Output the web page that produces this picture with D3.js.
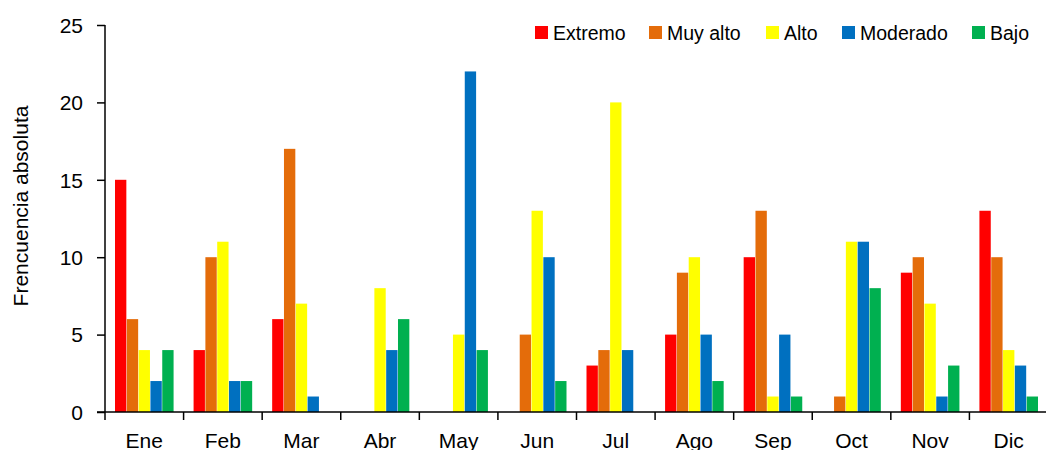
<!DOCTYPE html>
<html><head><meta charset="utf-8">
<script src="https://cdn.jsdelivr.net/npm/d3@7"></script>
<style>body{margin:0;background:#fff}svg{display:block}text{font-family:"Liberation Sans",Arial,sans-serif;fill:#000}</style>
</head><body>
<svg id="c" width="1046" height="450"></svg>
<script>
const months = ["Ene","Feb","Mar","Abr","May","Jun","Jul","Ago","Sep","Oct","Nov","Dic"];
const seriesNames = ["Extremo","Muy alto","Alto","Moderado","Bajo"];
const colors = ["#FF0000","#E46C0A","#FFFF00","#0070C0","#00B050"];
const extremo  = [15,4,6,0,0,0,3,5,10,0,9,13];
const muyAlto  = [6,10,17,0,0,5,4,9,13,1,10,10];
const alto     = [4,11,7,8,5,13,20,10,1,11,7,4];
const moderado = [2,2,1,4,22,10,4,5,5,11,1,3];
const bajo     = [4,2,0,6,4,2,0,2,1,8,3,1];
const yTicks = [0,5,10,15,20,25];
const series = [extremo, muyAlto, alto, moderado, bajo];

const svg = d3.select("#c");
const x0 = 105, x1 = 1048, yTop = 25, yBot = 412;
const x = d3.scaleBand().domain(months).range([x0, x1]).paddingInner(0).paddingOuter(0);
const xs = d3.scaleBand().domain(seriesNames).range([10, x.bandwidth()-10]).paddingInner(0.04);
const y = d3.scaleLinear().domain([0,25]).range([yBot, yTop]);

const g = svg.append("g");
months.forEach((m, i) => {
  series.forEach((s, j) => {
    const v = s[i];
    if (v > 0) {
      g.append("rect")
        .attr("x", x(m) + xs(seriesNames[j]))
        .attr("y", y(v))
        .attr("width", xs.bandwidth())
        .attr("height", y(0) - y(v))
        .attr("fill", colors[j]);
    }
  });
});

// Y axis
const ya = svg.append("g").attr("transform", `translate(${x0},0)`)
  .call(d3.axisLeft(y).tickValues(yTicks).tickSize(8).tickPadding(14).tickFormat(d3.format("d")));
ya.select(".domain").attr("stroke","#000").attr("stroke-width",1.5).attr("d", `M0,${yTop}V${yBot}`);
ya.selectAll(".tick line").attr("stroke","#000").attr("stroke-width",1.5);
ya.selectAll(".tick text").style("font-size","21px").attr("dy","0.35em");

// X axis
const xa = svg.append("g").attr("transform", `translate(0,${yBot})`);
xa.append("line").attr("x1", x0-8).attr("x2", x1).attr("y1",0).attr("y2",0).attr("stroke","#000").attr("stroke-width",1.5);
const bounds = months.map(m => x(m)).concat([x1]);
xa.selectAll("line.t").data(bounds).enter().append("line")
  .attr("x1", d=>d).attr("x2", d=>d).attr("y1",0).attr("y2",8)
  .attr("stroke","#000").attr("stroke-width",1.5);
xa.selectAll("text").data(months).enter().append("text")
  .attr("x", d => x(d) + x.bandwidth()/2).attr("y", 36)
  .attr("text-anchor","middle").style("font-size","21px").text(d=>d);

// Y title
svg.append("text").attr("transform","translate(28,206) rotate(-90)")
  .attr("text-anchor","middle").style("font-size","21px").text("Frencuencia absoluta");

// Legend
const legX = [535, 649, 766, 842, 972];
const leg = svg.append("g");
seriesNames.forEach((n, j) => {
  leg.append("rect").attr("x", legX[j]).attr("y", 26).attr("width", 13).attr("height", 13).attr("fill", colors[j]);
  leg.append("text").attr("x", legX[j] + 18).attr("y", 40).style("font-size","19.5px").text(n);
});
</script>
</body></html>
